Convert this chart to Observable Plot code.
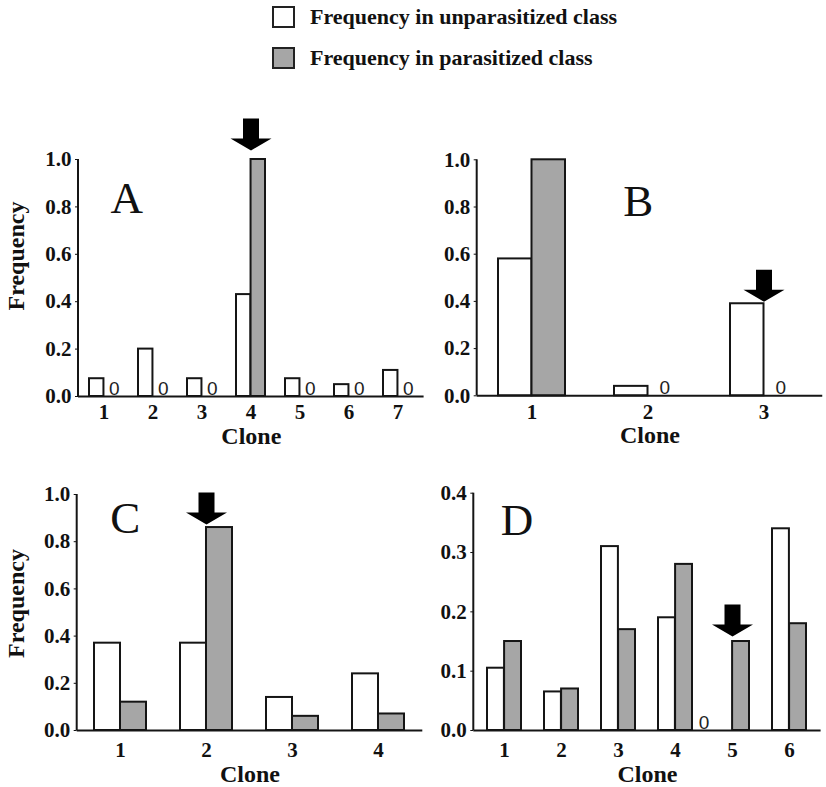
<!DOCTYPE html>
<html>
<head>
<meta charset="utf-8">
<script src="https://cdn.jsdelivr.net/npm/d3@7"></script>
<script src="https://cdn.jsdelivr.net/npm/@observablehq/plot@0.6"></script>
<style>
  body { margin: 0; background: #fff; }
  #wrap { position: relative; width: 826px; height: 787px; overflow: hidden; background: #fff; font-family: "Liberation Serif", "Times New Roman", serif; }
  .panel { position: absolute; }
  .legend { position: absolute; left: 272px; display: flex; align-items: center; font-weight: bold; font-size: 22px; color: #111; }
  .sw { width: 19px; height: 18px; border: 2px solid #222; margin-right: 15px; }
</style>
</head>
<body>
<div id="wrap"></div>
<script>
// ---- data ----
const seriesNames = ["Frequency in unparasitized class", "Frequency in parasitized class"];
const seriesFills = ["#ffffff", "#a6a6a6"];

const clonesA = ["1", "2", "3", "4", "5", "6", "7"];
const unparA = [0.075, 0.20, 0.075, 0.43, 0.075, 0.05, 0.11];
const parA = [0, 0, 0, 1.0, 0, 0, 0];
const arrowA = "4";

const clonesB = ["1", "2", "3"];
const unparB = [0.58, 0.04, 0.39];
const parB = [1.0, 0, 0];
const arrowB = "3";

const clonesC = ["1", "2", "3", "4"];
const unparC = [0.37, 0.37, 0.14, 0.24];
const parC = [0.12, 0.86, 0.06, 0.07];
const arrowC = "2";

const clonesD = ["1", "2", "3", "4", "5", "6"];
const unparD = [0.105, 0.065, 0.31, 0.19, 0, 0.34];
const parD = [0.15, 0.07, 0.17, 0.28, 0.15, 0.18];
const arrowD = "5";

const yTicks1 = [0, 0.2, 0.4, 0.6, 0.8, 1.0];
const yTicksD = [0, 0.1, 0.2, 0.3, 0.4];
const panelLetters = ["A", "B", "C", "D"];
const xLabel = "Clone";
const yLabel = "Frequency";

// ---- legend ----
const wrap = document.getElementById("wrap");
seriesNames.forEach((name, i) => {
  const row = document.createElement("div");
  row.className = "legend";
  row.style.top = (i === 0 ? 4 : 45) + "px";
  const sw = document.createElement("div");
  sw.className = "sw";
  sw.style.background = seriesFills[i];
  row.appendChild(sw);
  const t = document.createElement("span");
  t.textContent = name;
  row.appendChild(t);
  wrap.appendChild(row);
});

// block arrow symbol, tip at the origin pointing down
const arrowSymbol = {
  draw(ctx) {
    ctx.moveTo(-8, -32);
    ctx.lineTo(8, -32);
    ctx.lineTo(8, -12);
    ctx.lineTo(20.5, -12);
    ctx.lineTo(0, 0);
    ctx.lineTo(-20.5, -12);
    ctx.lineTo(-8, -12);
    ctx.closePath();
  }
};

function panel(cfg) {
  const {clones, unpar, par, arrow, yMax, yTicks, letter, showYLabel,
         left, top, width, height, marginLeft, marginTop, marginBottom, xRange, pad,
         letterDx, letterDy, zeroDx, arrowDy, cloneDy, tickPad, yLabelDx, yLabelDy} = cfg;
  const rows = clones.map((c, i) => ({clone: c, unpar: unpar[i], par: par[i]}));
  const step = (xRange[1] - xRange[0]) / clones.length;
  const bw = step * (1 - pad);
  const half = bw / 2;
  const arrowRows = rows.filter(d => d.clone === arrow).map(d => ({clone: d.clone, v: Math.max(d.unpar, d.par)}));

  const marks = [
    Plot.barY(rows.filter(d => d.unpar > 0), {x: "clone", y: "unpar", insetRight: half, fill: seriesFills[0], stroke: "#151515", strokeWidth: 2}),
    Plot.barY(rows.filter(d => d.par > 0), {x: "clone", y: "par", insetLeft: half, fill: seriesFills[1], stroke: "#151515", strokeWidth: 2}),
    Plot.text(rows.filter(d => d.unpar === 0), {x: "clone", y: 0, text: () => "0", dx: -bw / 4 + zeroDx, dy: -2, lineAnchor: "bottom", fontFamily: "Liberation Sans", fontWeight: "normal", fontSize: 19, fill: "#222"}),
    Plot.text(rows.filter(d => d.par === 0), {x: "clone", y: 0, text: () => "0", dx: bw / 4 + zeroDx, dy: -2, lineAnchor: "bottom", fontFamily: "Liberation Sans", fontWeight: "normal", fontSize: 19, fill: "#222"}),
    Plot.dot(arrowRows, {x: "clone", y: "v", symbol: arrowSymbol, fill: "#000", stroke: null, dy: arrowDy}),
    Plot.ruleY([0], {stroke: "#151515", strokeWidth: 2}),
    (index, scales) => {
      const line = document.createElementNS("http://www.w3.org/2000/svg", "line");
      line.setAttribute("x1", marginLeft);
      line.setAttribute("x2", marginLeft);
      line.setAttribute("y1", scales.y(0));
      line.setAttribute("y2", scales.y(yMax));
      line.setAttribute("stroke", "#151515");
      line.setAttribute("stroke-width", 2);
      return line;
    },
    Plot.axisY({ticks: yTicks, tickFormat: d => d.toFixed(1), tickSize: 3, tickPadding: 4, label: null, fontSize: 21, fontWeight: "bold"}),
    Plot.axisX({tickSize: 0, tickPadding: tickPad, label: null, fontSize: 21, fontWeight: "bold"}),
    Plot.text([xLabel], {frameAnchor: "bottom", text: d => d, dy: cloneDy, lineAnchor: "middle", fontSize: 24, fontWeight: "bold"}),
    Plot.text([letter], {frameAnchor: "top-left", text: d => d, dx: letterDx, dy: letterDy, textAnchor: "start", lineAnchor: "top", fontSize: 45, fontWeight: "normal"})
  ];
  if (showYLabel) {
    marks.push(Plot.text([yLabel], {frameAnchor: "left", text: d => d, rotate: -90, dx: yLabelDx, dy: yLabelDy, textAnchor: "middle", lineAnchor: "middle", fontSize: 24, fontWeight: "bold"}));
  }

  const svg = Plot.plot({
    width, height, marginLeft, marginTop, marginBottom, marginRight: Math.max(0, width - xRange[1]),
    style: {fontFamily: "'Liberation Serif', 'Times New Roman', serif", color: "#111", background: "transparent", overflow: "visible"},
    x: {domain: clones, range: xRange, paddingInner: pad, paddingOuter: pad / 2, align: 0.5},
    y: {domain: [0, yMax]},
    marks
  });
  const div = document.createElement("div");
  div.className = "panel";
  div.style.left = left + "px";
  div.style.top = top + "px";
  div.style.width = width + "px";
  div.appendChild(svg);
  wrap.appendChild(div);
}

panel({clones: clonesA, unpar: unparA, par: parA, arrow: arrowA, yMax: 1, yTicks: yTicks1, letter: panelLetters[0], showYLabel: true,
  left: 0, top: 100, width: 426, height: 345, marginLeft: 78, marginTop: 59, marginBottom: 49, xRange: [78.3, 423.6], pad: 0.41,
  letterDx: 32, letterDy: 22, zeroDx: 3, arrowDy: -9, cloneDy: 40, tickPad: 8, yLabelDx: -62, yLabelDy: -22});

panel({clones: clonesB, unpar: unparB, par: parB, arrow: arrowB, yMax: 1, yTicks: yTicks1, letter: panelLetters[1], showYLabel: false,
  left: 410, top: 100, width: 416, height: 345, marginLeft: 66.7, marginTop: 59.3, marginBottom: 49.7, xRange: [62.75, 412.25], pad: 0.425,
  letterDx: 146, letterDy: 24, zeroDx: 0, arrowDy: -2, cloneDy: 40, tickPad: 8, yLabelDx: 0, yLabelDy: 0});

panel({clones: clonesC, unpar: unparC, par: parC, arrow: arrowC, yMax: 1, yTicks: yTicks1, letter: panelLetters[2], showYLabel: true,
  left: 0, top: 460, width: 426, height: 327, marginLeft: 76.7, marginTop: 34, marginBottom: 57, xRange: [75.7, 422.3], pad: 0.4,
  letterDx: 33, letterDy: 7, zeroDx: 0, arrowDy: -3, cloneDy: 44, tickPad: 12, yLabelDx: -60.7, yLabelDy: -9});

panel({clones: clonesD, unpar: unparD, par: parD, arrow: arrowD, yMax: 0.4, yTicks: yTicksD, letter: panelLetters[3], showYLabel: false,
  left: 410, top: 460, width: 416, height: 327, marginLeft: 63.3, marginTop: 32.7, marginBottom: 57, xRange: [63, 410.6], pad: 0.41,
  letterDx: 27, letterDy: 10, zeroDx: -20, arrowDy: -5, cloneDy: 44, tickPad: 12, yLabelDx: 0, yLabelDy: 0});
</script>
</body>
</html>
